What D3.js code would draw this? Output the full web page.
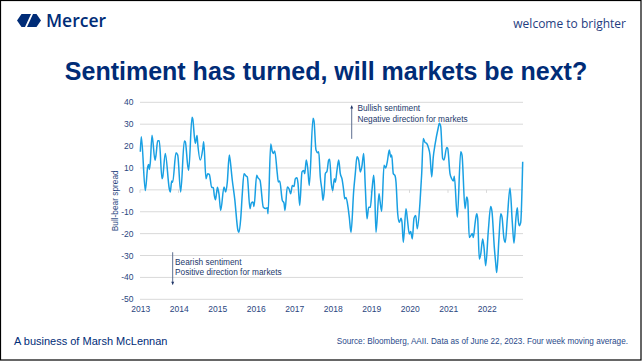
<!DOCTYPE html>
<html>
<head>
<meta charset="utf-8">
<script src="https://cdn.jsdelivr.net/npm/d3@7/dist/d3.min.js"></script>
<style>
  html, body { margin: 0; padding: 0; background: #fff; }
  svg { display: block; }
  text { font-family: "Liberation Sans", Arial, sans-serif; }
</style>
</head>
<body>
<svg id="chart" width="642" height="362"></svg>
<script>
// ---- data ----
const years = [
  2013.008, 2013.034, 2013.138, 2013.200, 2013.226, 2013.242, 2013.268, 2013.312, 2013.390, 2013.416,
  2013.460, 2013.501, 2013.571, 2013.590, 2013.657, 2013.761, 2013.787, 2013.823, 2013.849, 2013.935,
  2013.979, 2014.057, 2014.151, 2014.177, 2014.239, 2014.265, 2014.351, 2014.369, 2014.436, 2014.481,
  2014.499, 2014.566, 2014.629, 2014.655, 2014.714, 2014.758, 2014.800, 2014.862, 2014.904, 2014.930,
  2014.961, 2014.987, 2015.013, 2015.052, 2015.096, 2015.182, 2015.226, 2015.268, 2015.319, 2015.338,
  2015.397, 2015.460, 2015.545, 2015.571, 2015.616, 2015.657, 2015.701, 2015.745, 2015.787, 2015.857,
  2015.891, 2015.935, 2015.961, 2016.031, 2016.065, 2016.117, 2016.203, 2016.265, 2016.306, 2016.325,
  2016.395, 2016.436, 2016.462, 2016.499, 2016.566, 2016.592, 2016.629, 2016.696, 2016.740, 2016.766,
  2016.826, 2016.870, 2016.914, 2016.956, 2017.000, 2017.034, 2017.078, 2017.104, 2017.148, 2017.208,
  2017.252, 2017.278, 2017.319, 2017.356, 2017.397, 2017.494, 2017.519, 2017.571, 2017.616, 2017.642,
  2017.683, 2017.727, 2017.753, 2017.787, 2017.813, 2017.857, 2017.901, 2017.927, 2017.969, 2018.005,
  2018.047, 2018.073, 2018.117, 2018.161, 2018.203, 2018.247, 2018.291, 2018.317, 2018.351, 2018.403,
  2018.436, 2018.481, 2018.551, 2018.592, 2018.636, 2018.681, 2018.722, 2018.766, 2018.810, 2018.852,
  2018.896, 2018.940, 2018.982, 2019.026, 2019.070, 2019.091, 2019.130, 2019.208, 2019.234, 2019.278,
  2019.338, 2019.382, 2019.423, 2019.475, 2019.512, 2019.538, 2019.579, 2019.623, 2019.649, 2019.694,
  2019.735, 2019.779, 2019.805, 2019.839, 2019.909, 2019.943, 2019.995, 2020.031, 2020.073, 2020.117,
  2020.161, 2020.203, 2020.273, 2020.317, 2020.358, 2020.403, 2020.447, 2020.488, 2020.532, 2020.577,
  2020.618, 2020.662, 2020.748, 2020.774, 2020.810, 2020.862, 2020.896, 2020.966, 2020.992, 2021.052,
  2021.096, 2021.138, 2021.164, 2021.242, 2021.330, 2021.364, 2021.442, 2021.486, 2021.512, 2021.553,
  2021.590, 2021.631, 2021.657, 2021.701, 2021.745, 2021.771, 2021.813, 2021.849, 2021.901, 2021.935,
  2021.979, 2022.047, 2022.109, 2022.143, 2022.203, 2022.239, 2022.265, 2022.325, 2022.369, 2022.403,
  2022.455, 2022.488, 2022.540, 2022.610, 2022.670, 2022.714, 2022.766, 2022.800, 2022.826, 2022.852,
  2022.888, 2022.940
];
const spread = [
  17.4, 24.3, -0.3, 10.5, 11.6, 9.3, 12.5, 25.0, 13.5, 15.9,
  22.4, 22.4, 5.1, 5.9, 16.6, 0.5, -1.0, 4.1, 3.5, 16.9,
  15.9, -1.0, 22.3, 22.0, 11.2, 9.0, 33.2, 32.5, 21.2, 24.8,
  21.2, 13.6, 18.5, 22.0, 5.1, 7.4, 7.1, 1.2, 1.0, -2.5,
  -4.5, -1.5, 1.2, -2.0, -9.4, 1.3, -1.0, 3.6, 15.9, 14.0,
  4.4, -4.1, -18.6, -19.4, -13.2, -1.8, 7.4, 6.5, 5.9, -8.6,
  -6.0, -5.6, -7.6, 6.7, 5.5, 4.4, -7.9, -8.5, -8.2, -10.9,
  20.9, 17.5, 16.6, 17.8, 7.4, 3.6, 4.0, -4.8, -6.0, -9.4,
  1.3, 0.5, -1.8, 2.0, 1.5, 5.1, 5.5, 3.0, -7.1, 8.2,
  8.8, 7.4, 13.6, 10.0, 2.0, 32.7, 31.5, 18.2, 17.0, 17.4,
  5.9, -0.3, -4.8, -0.3, 7.4, 8.5, 13.6, 14.0, 3.0, -0.3,
  5.1, 3.5, 9.0, 13.6, 7.4, 5.0, -0.3, -4.1, -3.5, -7.9,
  -12.5, -19.4, -0.3, 7.4, 15.1, 13.5, 8.2, 11.0, 16.6, 1.3,
  -13.2, -8.0, -8.0, 0.0, 6.7, 2.0, -19.4, -1.8, -5.0, -9.8,
  11.2, 10.0, 12.8, 18.2, 15.0, 15.9, 7.4, 6.5, 3.6, -10.9,
  -14.8, -13.0, -14.8, -24.0, -8.6, -13.0, -20.2, -19.0, -22.4, -13.0,
  -11.7, -17.8, -5.6, 7.5, 23.5, 21.7, 21.2, 19.5, 15.9, 5.9,
  15.1, 20.5, 28.5, 30.4, 29.0, 14.3, 13.6, 19.4, 19.0, 7.4,
  5.1, 4.0, 6.2, -12.5, 17.4, 15.9, -8.6, -3.3, -4.8, -21.8,
  -21.0, -19.9, -21.8, -15.6, -10.9, -13.0, -31.6, -29.5, -22.4, -26.3,
  -34.7, -18.7, -7.6, -10.0, -26.3, -33.5, -37.8, -21.7, -10.9, -12.5,
  -22.4, -24.0, -13.2, 0.9, -14.8, -24.4, -12.5, -8.2, -14.0, -16.4,
  -15.0, 12.8
];
const yTicks = [40, 30, 20, 10, 0, -10, -20, -30, -40, -50];
const xTickYears = [2013, 2014, 2015, 2016, 2017, 2018, 2019, 2020, 2021, 2022];

const title = "Sentiment has turned, will markets be next?";
const yTitle = "Bull-bear spread";
const bullText = ["Bullish sentiment", "Negative direction for markets"];
const bearText = ["Bearish sentiment", "Positive direction for markets"];
const footerLeft = "A business of Marsh McLennan";
const footerRight = "Source: Bloomberg, AAII. Data as of June 22, 2023. Four week moving average.";

// ---- drawing ----
const navy = "#002c77";
const axisText = "#2a4680";
const svg = d3.select("#chart");

svg.append("rect").attr("x", 0).attr("y", 0).attr("width", 642).attr("height", 362).attr("fill", "#fff");
svg.append("rect").attr("x", 0.5).attr("y", 0.5).attr("width", 640.5).attr("height", 359.5)
  .attr("fill", "none").attr("stroke", "#000").attr("stroke-width", 1.2);

// Header logo
const logo = svg.append("g").attr("fill", navy);
logo.append("path").attr("d", "M17,20.5 L21.5,14 L31,14 L25,27 L21.5,27 Z");
logo.append("path").attr("d", "M33,14 L36.5,14 L41,20.5 L36.5,27 L27,27 Z");
svg.append("text").attr("x", 46).attr("y", 27).attr("font-size", 17.5).attr("font-weight", 600)
  .attr("fill", navy).style("font-family", "'Open Sans', sans-serif").text("Mercer");
svg.append("text").attr("x", 626).attr("y", 28).attr("text-anchor", "end").attr("font-size", 12)
  .attr("fill", "#1f3d7f").style("font-family", "'Open Sans', sans-serif").text("welcome to brighter");

// Title
svg.append("text").attr("x", 326).attr("y", 80).attr("text-anchor", "middle")
  .attr("font-size", 25).attr("font-weight", "bold").attr("fill", navy).text(title);

// Scales
const x = d3.scaleLinear().domain([2013, 2022.948]).range([140, 523]);
const y = d3.scaleLinear().domain([-50, 40]).range([299.3, 102.3]);

// Gridlines
svg.append("g").selectAll("line").data(yTicks).join("line")
  .attr("x1", x(2013)).attr("x2", x(2022.948))
  .attr("y1", d => y(d)).attr("y2", d => y(d))
  .attr("stroke", "#d9d9d9").attr("stroke-width", 1);

// Y axis labels
svg.append("g").selectAll("text").data(yTicks).join("text")
  .attr("x", 133.5).attr("y", d => y(d) + 3)
  .attr("text-anchor", "end").attr("font-size", 8.5).attr("fill", axisText)
  .text(d => d);

// X axis ticks on zero line
svg.append("g").selectAll("line").data(xTickYears).join("line")
  .attr("x1", d => x(d)).attr("x2", d => x(d))
  .attr("y1", y(0)).attr("y2", y(0) + 3)
  .attr("stroke", "#d9d9d9").attr("stroke-width", 1);

// X labels
svg.append("g").selectAll("text").data(xTickYears).join("text")
  .attr("x", d => x(d) + 0.8).attr("y", 312)
  .attr("text-anchor", "middle").attr("font-size", 8.5).attr("fill", axisText)
  .text(d => d);

// Y title
svg.append("text").attr("transform", `translate(118,${y(-5)}) rotate(-90)`)
  .attr("text-anchor", "middle").attr("font-size", 8.3).attr("fill", axisText).text(yTitle);

// Line
const pts = years.map((t, i) => [t, spread[i]]);
const line = d3.line().x(d => x(d[0])).y(d => y(d[1])).curve(d3.curveMonotoneX);
svg.append("path").datum(pts).attr("d", line)
  .attr("fill", "none").attr("stroke", "#19a0e3").attr("stroke-width", 1.5)
  .attr("stroke-linejoin", "round");

// Annotations
const arrowCol = "#5d6e90";
function annot(tx, vTop, vBot, up, lines, dx, base1) {
  const ax = x(tx);
  svg.append("line").attr("x1", ax).attr("x2", ax).attr("y1", y(vTop)).attr("y2", y(vBot))
    .attr("stroke", arrowCol).attr("stroke-width", 1);
  const tipY = up ? y(vTop) : y(vBot);
  const s = up ? 1 : -1;
  svg.append("path").attr("d", `M${ax},${tipY} L${ax - 1.5},${tipY + s * 3} L${ax + 1.5},${tipY + s * 3} Z`)
    .attr("fill", "#1f3466");
  lines.forEach((l, i) => {
    svg.append("text").attr("x", ax + dx).attr("y", base1 + i * 10.6)
      .attr("font-size", 8.3).attr("fill", "#23396b").text(l);
  });
}
annot(2018.499, 38.5, 23.3, true, bullText, 5.7, 111.3);
annot(2013.849, -28.5, -43.3, false, bearText, 2.4, 264.6);

// Footer
svg.append("text").attr("x", 14).attr("y", 345).attr("font-size", 11).attr("fill", navy).text(footerLeft);
svg.append("text").attr("x", 628).attr("y", 344).attr("text-anchor", "end").attr("font-size", 8.2)
  .attr("fill", "#2a4a8a").text(footerRight);
</script>
</body>
</html>
